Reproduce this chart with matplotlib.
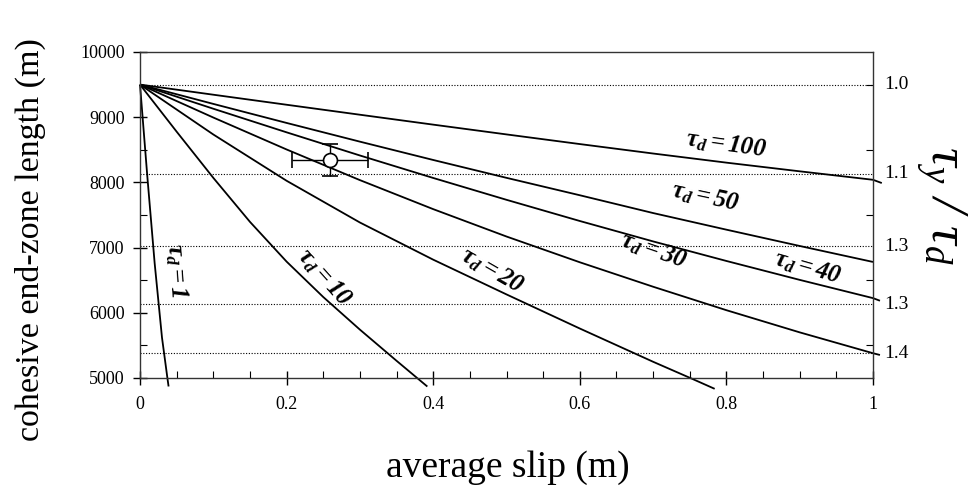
import numpy as np
import matplotlib
matplotlib.use("Agg")
import matplotlib.pyplot as plt
from matplotlib.ticker import MultipleLocator

plt.rcParams['font.family'] = ['Liberation Serif', 'DejaVu Serif']
plt.rcParams['mathtext.fontset'] = 'custom'
plt.rcParams['mathtext.rm'] = 'Liberation Serif:italic:bold'
plt.rcParams['mathtext.it'] = 'Liberation Serif:italic:bold'
plt.rcParams['mathtext.bf'] = 'Liberation Serif:italic:bold'
plt.rcParams['mathtext.sf'] = 'Liberation Serif:italic'

# ---- data ----
tau_d = [1, 10, 20, 30, 40, 50, 100]

slip_1 = [0.0, 0.01, 0.02, 0.03, 0.0375, 0.039]
len_1 = [9500, 8090, 6760, 5620, 4990, 4870]

slip_10 = [0.0, 0.05, 0.10, 0.15, 0.20, 0.25, 0.30, 0.35, 0.392]
len_10 = [9500, 8778, 8070, 7395, 6785, 6242, 5742, 5264, 4869]

slip_20 = [0.0, 0.1, 0.2, 0.3, 0.4, 0.5, 0.6, 0.7, 0.755, 0.784]
len_20 = [9500, 8735, 8025, 7385, 6815, 6282, 5759, 5249, 4979, 4834]

slip_30 = [0.0, 0.1, 0.2, 0.3, 0.4, 0.5, 0.6, 0.7, 0.8, 0.9, 1.0, 1.0095]
len_30 = [9500, 8995, 8505, 8035, 7590, 7170, 6775, 6400, 6040, 5700, 5380, 5353]

slip_40 = [0.0, 0.1, 0.2, 0.3, 0.4, 0.5, 0.6, 0.7, 0.8, 0.9, 1.0, 1.0095]
len_40 = [9500, 9130, 8768, 8413, 8068, 7733, 7408, 7095, 6795, 6505, 6225, 6185]

slip_50 = [0.0, 0.1, 0.2, 0.3, 0.4, 0.5, 0.6, 0.7, 0.8, 0.9, 1.0]
len_50 = [9500, 9204, 8912, 8625, 8344, 8070, 7803, 7530, 7275, 7025, 6780]

slip_100 = [0.0, 0.1, 0.2, 0.3, 0.4, 0.5, 0.6, 0.7, 0.8, 0.9, 1.0, 1.012]
len_100 = [9500, 9345, 9191, 9038, 8886, 8736, 8588, 8443, 8303, 8170, 8040, 7990]

obs_slip = 0.259
obs_len = 8344
obs_slip_err = 0.052
obs_len_err = 245

ratio_levels = [9500, 8130, 7020, 6130, 5380]
ratio_labels = ['1.0', '1.1', '1.3', '1.3', '1.4']

x_ticks = [0, 0.2, 0.4, 0.6, 0.8, 1]
x_tick_labels = ['0', '0.2', '0.4', '0.6', '0.8', '1']
y_ticks = [5000, 6000, 7000, 8000, 9000, 10000]

curve_labels = [
    # text, x, y, rotation
    (r'$\tau_d = 1$', 0.050, 6650, -86),
    (r'$\tau_d = 10$', 0.252, 6540, -48),
    (r'$\tau_d = 20$', 0.480, 6650, -30),
    (r'$\tau_d = 30$', 0.701, 6950, -19),
    (r'$\tau_d = 40$', 0.911, 6690, -16),
    (r'$\tau_d = 50$', 0.771, 7780, -12),
    (r'$\tau_d = 100$', 0.800, 8580, -8),
]

# ---- figure ----
fig = plt.figure(figsize=(9.79, 4.97), dpi=100)
ax = fig.add_axes([140/979, (497-378)/497, 733/979, 326/497])
ax.set_xlim(0, 1)
ax.set_ylim(5000, 10000)

ax.hlines(ratio_levels, 0, 1, colors='black', linestyles=(0, (1, 1.5)), lw=0.8)

curves = [(slip_1, len_1), (slip_10, len_10), (slip_20, len_20), (slip_30, len_30),
          (slip_40, len_40), (slip_50, len_50), (slip_100, len_100)]
for xs, ys in curves:
    ax.plot(xs, ys, color='black', lw=1.3, clip_on=False, solid_capstyle='butt',
            solid_joinstyle='round')

ax.errorbar([obs_slip], [obs_len], xerr=[obs_slip_err], yerr=[obs_len_err],
            fmt='o', mfc='white', mec='black', ecolor='black', ms=10, mew=1.2,
            elinewidth=1.0, capsize=6, capthick=1.0, zorder=5)

for txt, x, y, rot in curve_labels:
    ax.text(x, y, txt, fontsize=18, rotation=rot, ha='center', va='center',
            rotation_mode='anchor')

for lev, lab in zip(ratio_levels, ratio_labels):
    ax.text(1.015, lev, lab, transform=ax.get_yaxis_transform(), fontsize=14,
            ha='left', va='center')

ax.set_xticks(x_ticks)
ax.set_xticklabels(x_tick_labels)
ax.set_yticks(y_ticks)
ax.xaxis.set_minor_locator(MultipleLocator(0.05))
ax.yaxis.set_minor_locator(MultipleLocator(500))
ax.tick_params(which='major', direction='inout', length=10, width=1.0, labelsize=13)
ax.tick_params(axis='x', which='major', pad=8)
ax.tick_params(axis='y', which='major', pad=6)
ax.tick_params(which='minor', direction='in', length=5, width=0.8)
ax.tick_params(axis='y', which='minor', right=True)
for sp in ax.spines.values():
    sp.set_linewidth(1.0)
    sp.set_color('#333333')

fig.text(30/979, 1 - 240/497, 'cohesive end-zone length (m)', rotation=90,
         fontsize=24.5, ha='center', va='center')
fig.text(508/979, 1 - 468/497, 'average slip (m)', fontsize=27,
         ha='center', va='center')
fig.text(941/979, 1 - 205/497, r'$\mathsf{\tau_y\ /\ \tau_d}$', rotation=-90,
         fontsize=38, ha='center', va='center')

fig.savefig('out.png', dpi=100)
